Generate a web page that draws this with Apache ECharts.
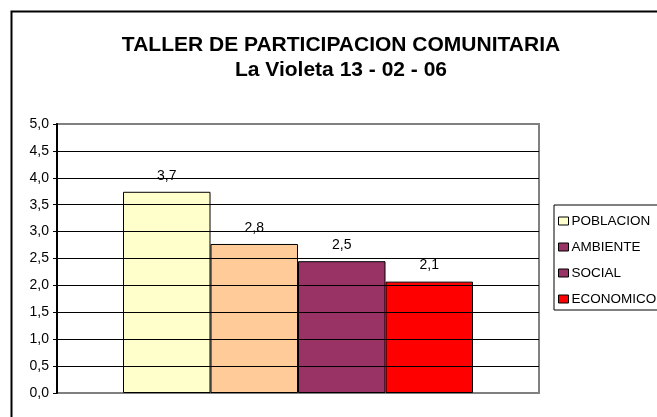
<!DOCTYPE html>
<html>
<head>
<meta charset="utf-8">
<script src="https://cdn.jsdelivr.net/npm/echarts@6/dist/echarts.min.js"></script>
<style>
html,body{margin:0;padding:0;background:#fff;}
#chart{width:657px;height:417px;}
</style>
</head>
<body>
<div id="chart"></div>
<script>
var titleLines = ['TALLER DE PARTICIPACION COMUNITARIA', 'La Violeta 13 - 02 - 06'];
var categories = [''];
var seriesNames = ['POBLACION', 'AMBIENTE', 'SOCIAL', 'ECONOMICO'];
var seriesValues = [3.74, 2.77, 2.45, 2.07];
var barColors = ['#FFFFCC', '#FFCC99', '#993366', '#FF0000'];
var legendColors = ['#FFFFCC', '#993366', '#993366', '#FF0000'];
var yMin = 0, yMax = 5, yStep = 0.5;

var FONT = "'Liberation Sans', Arial, sans-serif";
function fmt(v){ return Number(v).toFixed(1).replace('.', ','); }

var nLines = Math.round((yMax - yMin) / yStep) + 1;
var splitColors = [];
for (var i = 0; i < nLines; i++) splitColors.push(i === 0 || i === nLines - 1 ? '#808080' : '#000000');

var chart = echarts.init(document.getElementById('chart'), null, {renderer: 'canvas'});
var series = seriesNames.map(function(name, i){
  return {
    name: name,
    type: 'bar',
    data: [seriesValues[i]],
    barWidth: 87.5,
    barGap: '0%',
    itemStyle: {color: barColors[i], borderColor: '#000', borderWidth: 1},
    label: {
      show: true, position: 'top', distance: 9,
      fontFamily: FONT, fontSize: 14, color: '#000',
      formatter: function(p){ return fmt(p.value); }
    },
    emphasis: {disabled: true}
  };
});

chart.setOption({
  animation: false,
  backgroundColor: '#fff',
  graphic: [{
    type: 'rect', left: 9, top: 9,
    shape: {width: 800, height: 600},
    style: {fill: 'none', stroke: '#000', lineWidth: 2},
    silent: true, z: 100
  }],
  title: {
    text: titleLines.join('\n'),
    left: 341, top: 33, textAlign: 'center', padding: 0,
    textStyle: {fontFamily: FONT, fontSize: 21, fontWeight: 'bold', color: '#000', lineHeight: 25}
  },
  legend: {
    orient: 'vertical', left: 554, top: 205,
    padding: [9, 6, 4, 4],
    itemGap: 12, itemWidth: 10, itemHeight: 8,
    icon: 'rect',
    borderColor: '#000', borderWidth: 1,
    textStyle: {fontFamily: FONT, fontSize: 13.5, color: '#000', padding: [0, 0, 0, -2]},
    itemStyle: {borderColor: '#000', borderWidth: 1},
    data: seriesNames.map(function(n, i){ return {name: n, itemStyle: {color: legendColors[i]}}; }),
    selectedMode: false
  },
  grid: {
    left: 57, right: 118, top: 124, bottom: 24,
    show: true, borderColor: '#808080', borderWidth: 2, backgroundColor: 'transparent'
  },
  xAxis: {
    type: 'category', data: categories,
    axisLine: {show: false},
    axisTick: {show: false}, axisLabel: {show: false}
  },
  yAxis: {
    type: 'value', min: yMin, max: yMax, interval: yStep, z: 5,
    axisLine: {show: true, lineStyle: {color: '#000', width: 2}},
    axisTick: {show: true, length: 4, lineStyle: {color: '#000', width: 1}},
    axisLabel: {margin: 8, fontFamily: FONT, fontSize: 14, color: '#000', formatter: function(v){ return fmt(v); }},
    splitLine: {show: true, lineStyle: {color: splitColors, width: 1}}
  },
  series: series
});
</script>
</body>
</html>
